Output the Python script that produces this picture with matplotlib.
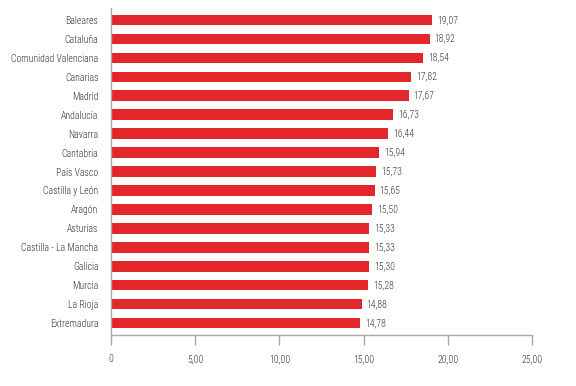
import matplotlib.pyplot as plt
from matplotlib import font_manager

regions = ['Baleares', 'Cataluña', 'Comunidad Valenciana', 'Canarias', 'Madrid',
           'Andalucía', 'Navarra', 'Cantabria', 'País Vasco', 'Castilla y León',
           'Aragón', 'Asturias', 'Castilla - La Mancha', 'Galicia', 'Murcia',
           'La Rioja', 'Extremadura']
values = [19.07, 18.92, 18.54, 17.82, 17.67, 16.73, 16.44, 15.94, 15.73, 15.65,
          15.50, 15.33, 15.33, 15.30, 15.28, 14.88, 14.78]
ticks = [0, 5, 10, 15, 20, 25]
tick_labels = ['0', '5,00', '10,00', '15,00', '20,00', '25,00']

# pick the narrowest font that is installed
names = {f.name for f in font_manager.fontManager.ttflist}
font = 'DejaVu Sans'
for cand in ['Roboto Condensed', 'Liberation Sans Narrow', 'Open Sans Condensed']:
    if cand in names:
        font = cand
        break
plt.rcParams['font.family'] = [font, 'DejaVu Sans']
plt.rcParams['font.stretch'] = 'condensed'
plt.rcParams['font.weight'] = 'light'
fs = 7.0 if font != 'DejaVu Sans' else 6.0

txt = '#333333'
gray = '#aaaaaa'

fig = plt.figure(figsize=(5.76, 3.86), dpi=100)
ax = fig.add_axes([0.1927, 0.1321, 0.7309, 0.847])

y = list(range(len(regions)))
ax.barh(y, values, height=0.56, color='#e3262b')
for yi, v in zip(y, values):
    ax.text(v + 0.3, yi, f'{v:.2f}'.replace('.', ','), va='center', ha='left',
            fontsize=fs, color=txt)

ax.set_ylim(16.63, -0.63)
ax.set_xlim(0, 25)
ax.set_yticks(y)
ax.set_yticklabels(regions, fontsize=fs, color=txt)
ax.tick_params(axis='y', length=0, pad=9)
ax.set_xticks(ticks)
ax.set_xticklabels(tick_labels, fontsize=fs, color=txt)
ax.tick_params(axis='x', direction='out', length=7, width=1, color=gray, pad=7)

for s in ['top', 'right']:
    ax.spines[s].set_visible(False)
for s in ['left', 'bottom']:
    ax.spines[s].set_color(gray)
    ax.spines[s].set_linewidth(1)

fig.savefig('out.png', dpi=100)
